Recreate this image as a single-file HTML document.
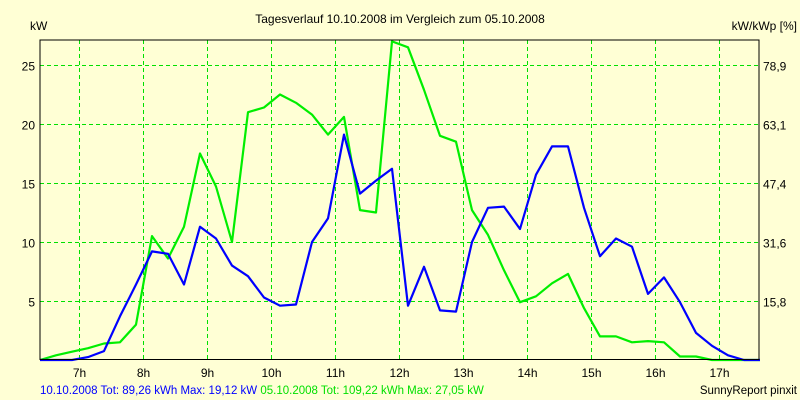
<!DOCTYPE html>
<html><head><meta charset="utf-8"><style>
html,body{margin:0;padding:0;background:#ffffd5;}
svg{display:block;font-family:"Liberation Sans",Arial,sans-serif;}
</style></head><body>
<svg id="chart" width="800" height="400" viewBox="0 0 800 400">
<rect x="0" y="0" width="800" height="400" fill="#ffffd5"/>
<text x="400" y="23" font-size="12" text-anchor="middle" fill="#000">Tagesverlauf 10.10.2008 im Vergleich zum 05.10.2008</text>
<text x="30" y="30" font-size="12" fill="#000">kW</text>
<text x="797" y="30" font-size="12" text-anchor="end" fill="#000">kW/kWp [%]</text>
<g id="grid"></g>
<g id="series"></g>
<rect x="40" y="40" width="719" height="319.5" fill="none" stroke="#000" stroke-width="1"/>
<g id="axes"></g>
<text x="40" y="394" font-size="11.5"><tspan fill="#0000ff">10.10.2008 Tot: 89,26 kWh Max: 19,12 kW </tspan><tspan fill="#00e000">05.10.2008 Tot: 109,22 kWh Max: 27,05 kW</tspan></text>
<text x="797" y="394" font-size="11.5" text-anchor="end" fill="#000">SunnyReport pinxit</text>
</svg>
<script>
const hourTicks = [7,8,9,10,11,12,13,14,15,16,17];
const leftTicks = [5,10,15,20,25];
const rightTickLabels = ["15,8","31,6","47,4","63,1","78,9"];
const startHour = 6.39;
const stepHours = 0.25;
const seriesBlue = [0,0,0,0.25,0.75,3.7,6.4,9.2,9.0,6.4,11.3,10.3,8.0,7.1,5.3,4.6,4.7,10.0,12.0,19.1,14.1,15.2,16.2,4.6,7.9,4.2,4.1,10.0,12.9,13.0,11.1,15.7,18.1,18.1,12.9,8.8,10.3,9.6,5.6,7.0,4.9,2.3,1.2,0.4,0,0];
const seriesGreen = [0,0.4,0.7,1.0,1.4,1.5,3.0,10.5,8.6,11.3,17.5,14.7,10.0,21.0,21.4,22.5,21.8,20.8,19.1,20.6,12.7,12.5,27.0,26.5,22.9,19.0,18.5,12.7,10.6,7.6,4.9,5.4,6.5,7.3,4.4,2.0,2.0,1.5,1.6,1.5,0.3,0.3,0,0,0,0];

const NS = "http://www.w3.org/2000/svg";
const X0 = 40, X1 = 759, Y0 = 360, YT = 40;
function xScale(h){ return 79 + (h - 7) * 64; }
function yScale(v){ return 360 - v * 11.8; }
function mk(tag, attrs, parent){ const e = document.createElementNS(NS, tag); for (const k in attrs) e.setAttribute(k, attrs[k]); parent.appendChild(e); return e; }

const grid = document.getElementById('grid');
const axes = document.getElementById('axes');
hourTicks.forEach(h => {
  const x = Math.round(xScale(h)) + 0.5;
  const l = mk('line', {x1:x, y1:YT, x2:x, y2:Y0, stroke:'#00e000', 'stroke-width':1, 'stroke-dasharray':'4,3'}, grid);
  
  
  const t = mk('text', {x:x, y:377, 'font-size':12, 'text-anchor':'middle', fill:'#000'}, axes);
  t.textContent = h + 'h';
  
  
});
leftTicks.forEach((v, i) => {
  const y = Math.round(yScale(v)) + 0.5;
  const l = mk('line', {x1:X0, y1:y, x2:X1, y2:y, stroke:'#00e000', 'stroke-width':1, 'stroke-dasharray':'4,3'}, grid);
  
  
  const t = mk('text', {x:35, y:y + 5, 'font-size':12, 'text-anchor':'end', fill:'#000'}, axes);
  t.textContent = v;
  
  
  const r = mk('text', {x:763, y:y + 5, 'font-size':12, fill:'#000'}, axes);
  r.textContent = rightTickLabels[i];
  
  
});

const series = document.getElementById('series');
function drawLine(vals, color, name){
  const pts = vals.map((v, k) => xScale(startHour + k * stepHours).toFixed(1) + ',' + yScale(v).toFixed(1)).join(' ');
  const p = mk('polyline', {points:pts, fill:'none', stroke:color, 'stroke-width':2.2, 'stroke-linejoin':'round'}, series);
  
  
}
drawLine(seriesGreen, '#00ee00', 'line-05-10-2008');
drawLine(seriesBlue, '#0000ff', 'line-10-10-2008');
</script>
</body></html>
